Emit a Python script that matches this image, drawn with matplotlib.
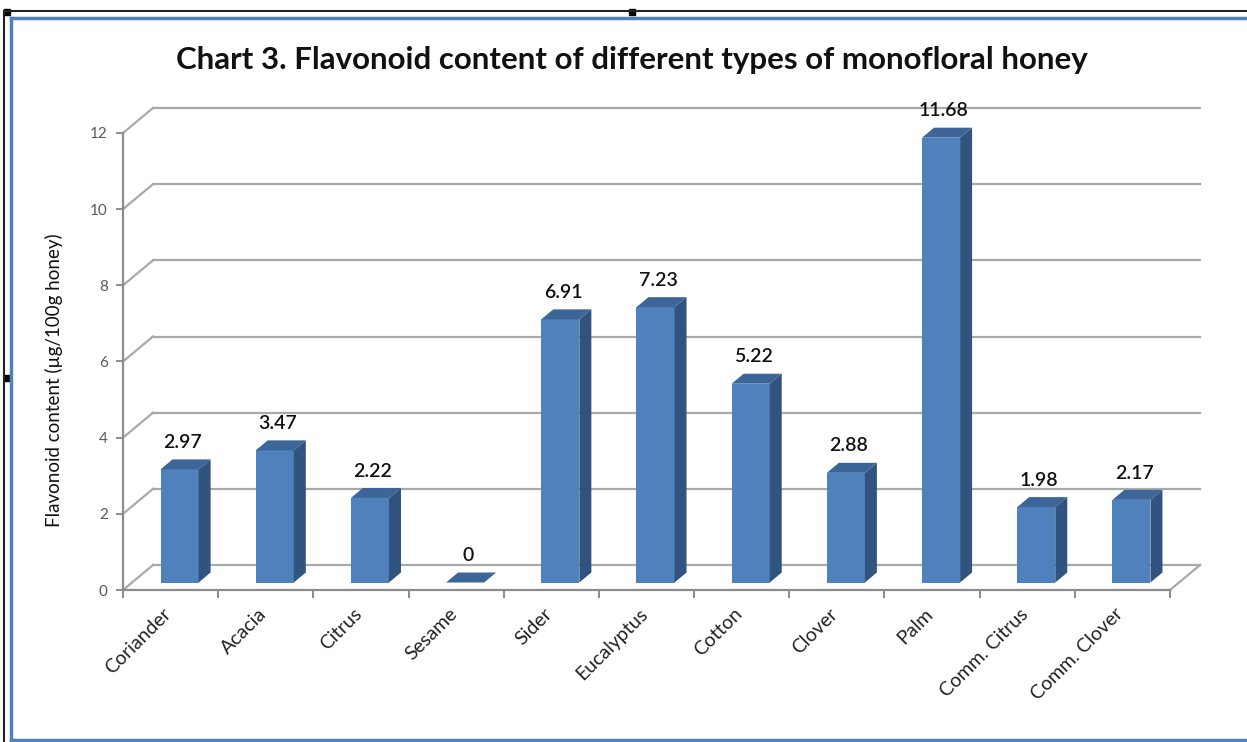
import matplotlib
matplotlib.use("Agg")
import matplotlib.pyplot as plt
import matplotlib.transforms as mtransforms
from matplotlib.patches import Polygon, Rectangle
from matplotlib.lines import Line2D
import numpy as np

# chart data
honey_types = ['Coriander', 'Acacia', 'Citrus', 'Sesame', 'Sider', 'Eucalyptus',
               'Cotton', 'Clover', 'Palm', 'Comm. Citrus', 'Comm. Clover']
flavonoid = [2.97, 3.47, 2.22, 0, 6.91, 7.23, 5.22, 2.88, 11.68, 1.98, 2.17]
y_ticks = [0, 2, 4, 6, 8, 10, 12]

# fake 3d settings (depth offset in data units)
DX = 0.315
DY = 0.656
D0, D1 = 0.3, 0.7
BAR_W = 0.4
FRONT = '#4f81bd'
SIDE = '#30547f'
TOP = '#3c6598'
GRID = '#a9a9a9'

plt.rcParams['font.family'] = ['Lato', 'DejaVu Sans']

W, H = 1247, 742
fig = plt.figure(figsize=(W / 100, H / 100), dpi=100)

# frame like the embedded office object
fig.add_artist(Line2D([4 / W, 1], [1 - 11 / H, 1 - 11 / H], color='#222222', lw=1.5))
fig.add_artist(Line2D([4 / W, 4 / W], [0, 1 - 11 / H], color='#222222', lw=1.5))
fig.add_artist(Line2D([11 / W, 1], [1 - 18 / H, 1 - 18 / H], color='#4f81bd', lw=2.5))
fig.add_artist(Line2D([11 / W, 11 / W], [2 / H, 1 - 18 / H], color='#4f81bd', lw=2.5))
fig.add_artist(Line2D([11 / W, 1], [2 / H, 2 / H], color='#4f81bd', lw=2.5))
for hx, hy in [(7, 12), (632, 12), (7, 378)]:
    fig.add_artist(Rectangle(((hx - 3) / W, 1 - (hy + 3) / H), 6 / W, 6 / H,
                             color='black', transform=fig.transFigure))

n = len(flavonoid)
ax = fig.add_axes([123 / W, 152 / H, 1077 / W, 482 / H])
ax.set_xlim(0, n + DX)
ax.set_ylim(0, 12 + DY)
ax.patch.set_alpha(0)

# walls: back gridlines and left wall diagonals
for v in y_ticks:
    ax.plot([DX, n + DX], [v + DY, v + DY], color=GRID, lw=1.6, zorder=1, clip_on=False)
    ax.plot([0, DX], [v, v + DY], color=GRID, lw=1.6, zorder=1, clip_on=False)
ax.plot([n, n + DX], [0, DY], color=GRID, lw=1.6, zorder=1, clip_on=False)

# bars
centers = np.arange(n) + 0.5
fx = centers + D0 * DX
ax.bar(fx, flavonoid, width=BAR_W, bottom=D0 * DY, color=FRONT, zorder=3)
dd = (D1 - D0)
for x, v in zip(fx, flavonoid):
    xl, xr = x - BAR_W / 2, x + BAR_W / 2
    yb, yt = D0 * DY, D0 * DY + v
    side = [(xr, yb), (xr + dd * DX, yb + dd * DY), (xr + dd * DX, yt + dd * DY), (xr, yt)]
    top = [(xl, yt), (xr, yt), (xr + dd * DX, yt + dd * DY), (xl + dd * DX, yt + dd * DY)]
    ax.add_patch(Polygon(side, closed=True, facecolor=SIDE, edgecolor='none', zorder=3))
    ax.add_patch(Polygon(top, closed=True, facecolor=TOP, edgecolor='none', zorder=3))
    ax.annotate(f'{v:g}', (x + 0.03, yt + dd * DY), xytext=(0, 6), textcoords='offset points',
                ha='center', va='bottom', fontsize=14, fontweight='semibold',
                color='#111111', annotation_clip=False)

# axes
for s in ['top', 'right']:
    ax.spines[s].set_visible(False)
ax.spines['left'].set_bounds(0, 12)
ax.spines['bottom'].set_bounds(0, n)
for s in ['left', 'bottom']:
    ax.spines[s].set_color('#8c8c8c')
    ax.spines[s].set_linewidth(1.6)

ax.set_yticks(y_ticks)
ax.set_yticklabels([str(t) for t in y_ticks], fontsize=11, color='#595959')
ax.tick_params(axis='y', length=5, width=1.4, color='#8c8c8c', pad=6)

ax.set_xticks(centers)
ax.set_xticklabels(honey_types, rotation=45, ha='right', rotation_mode='anchor',
                   fontsize=14, color='#222222')
ax.tick_params(axis='x', length=0, pad=11)
shift = mtransforms.ScaledTranslation(-8 / 100, 0, fig.dpi_scale_trans)
for lab in ax.get_xticklabels():
    lab.set_transform(lab.get_transform() + shift)
ax.set_xticks(np.arange(n + 1), minor=True)
ax.tick_params(axis='x', which='minor', length=6, width=1.4, color='#8c8c8c')

ax.set_ylabel('Flavonoid content (µg/100g honey)', fontsize=13.5, color='#111111')
ax.yaxis.set_label_coords((63 - 123) / 1077, (362 - 152) / 482)

fig.text(0.5 + 8 / W, 1 - 60 / H, 'Chart 3. Flavonoid content of different types of monofloral honey',
         ha='center', va='center', fontsize=22.5, fontweight='bold', color='#111111')

fig.savefig('out.png', dpi=100)
